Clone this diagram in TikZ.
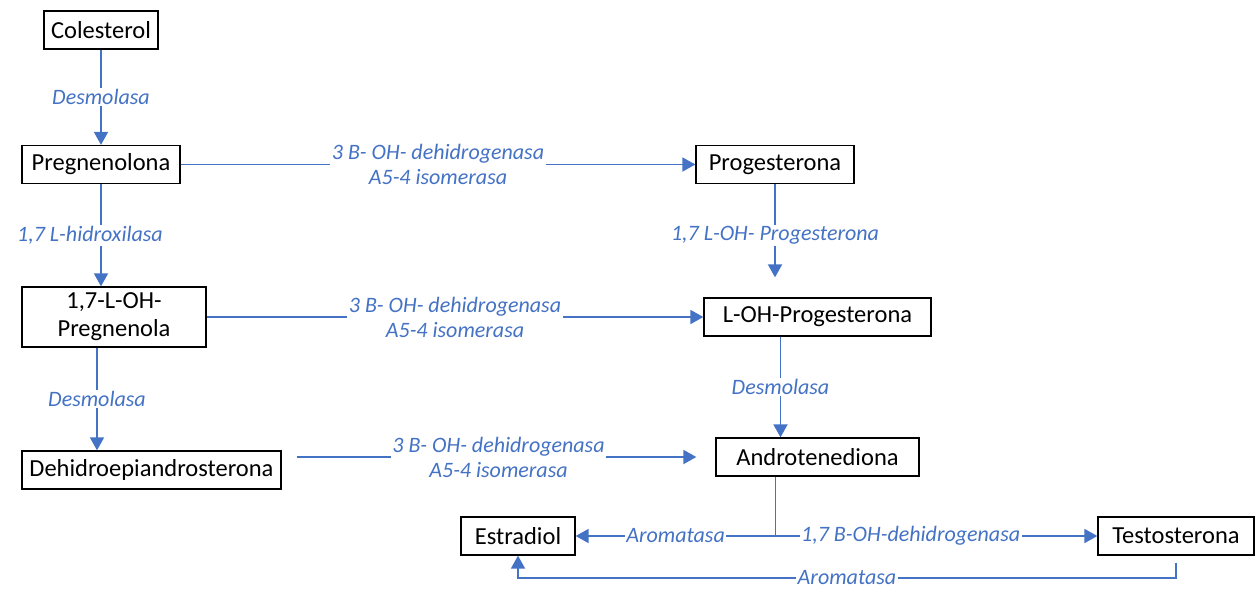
\documentclass[tikz,border=0pt]{standalone}
\usepackage{fontspec}
\setmainfont{Carlito}
\usetikzlibrary{positioning, calc, arrows.meta}
\definecolor{pathblue}{HTML}{4472C4}

\begin{document}
\begin{tikzpicture}[x=1pt, y=-1pt,
    compound/.style={draw, line width=1.3pt, minimum height=38pt, inner xsep=6pt, align=center, font=\fontsize{24.5}{28}\selectfont},
    enzyme/.style={fill=white, text=pathblue, inner sep=1.5pt, align=center, font=\fontsize{22}{25}\selectfont\itshape},
    flow/.style={draw=pathblue, line width=1.8pt, -{Triangle[length=13pt,width=14pt]}}]
        \useasboundingbox (0,0) rectangle (1255,590);

        \node[compound, minimum width=114pt] (chol) at (101,30) {Colesterol}; % start of the pathway
        \node[compound, minimum width=158pt] (preg) at (101,164.5) {Pregnenolona};
        \node[compound, minimum width=158pt] (prog) at (775,164.5) {Progesterona};
        \node[compound, minimum width=184pt, minimum height=60pt] (ohpreg) at (114,317) {1,7-L-OH-\\Pregnenola};
        \node[compound, minimum width=227pt] (ohprog) at (817.5,317) {L-OH-Progesterona};
        \node[compound, minimum width=259pt] (dhea) at (151.5,470) {Dehidroepiandrosterona};
        \node[compound, minimum width=203pt] (andro) at (817.5,457) {Androtenediona};
        \node[compound, minimum width=114pt] (estr) at (518,536) {Estradiol}; % end products
        \node[compound, minimum width=156pt] (testo) at (1176,536) {Testosterona};

        % Left column
        \draw[flow] (chol) -- node[enzyme] {Desmolasa} (preg);
        \draw[flow] (preg) -- node[enzyme, xshift=-11pt] {1,7 L-hidroxilasa} (preg |- ohpreg.north);
        \draw[flow] ([xshift=-17pt]ohpreg.south) -- node[enzyme] {Desmolasa} ([xshift=-17pt]ohpreg.south |- dhea.north);

        % Across to the right column
        \draw[flow] (preg) -- node[enzyme] {3 B- OH- dehidrogenasa\\A5-4 isomerasa} (prog);
        \draw[flow] (ohpreg) -- node[enzyme] {3 B- OH- dehidrogenasa\\A5-4 isomerasa} (ohprog);
        \draw[flow, shorten <=15pt, shorten >=19pt] (dhea.east |- andro) -- node[enzyme] {3 B- OH- dehidrogenasa\\A5-4 isomerasa} (andro);

        % Right column
        \draw[flow, shorten >=20pt] (prog) -- node[enzyme, pos=0.45] {1,7 L-OH- Progesterona} (prog |- ohprog.north);
        \draw[flow] ([xshift=-37pt]ohprog.south) -- node[enzyme] {Desmolasa} ([xshift=-37pt]ohprog.south |- andro.north);

        % Split towards the end products
        \coordinate (split) at ([xshift=-42pt]andro.south |- estr);
        \draw[flow, -] ([xshift=-42pt]andro.south) -- (split);
        \draw[flow] (split) -- node[enzyme] {Aromatasa} (estr);
        \draw[flow] (split) -- node[enzyme, pos=0.42] {1,7 B-OH-dehidrogenasa} (testo);
        \draw[flow, shorten <=7pt] (testo.south) -- ++(0,22) -| node[enzyme, pos=0.25, inner ysep=0pt] {Aromatasa} (estr);
\end{tikzpicture}
\end{document}
